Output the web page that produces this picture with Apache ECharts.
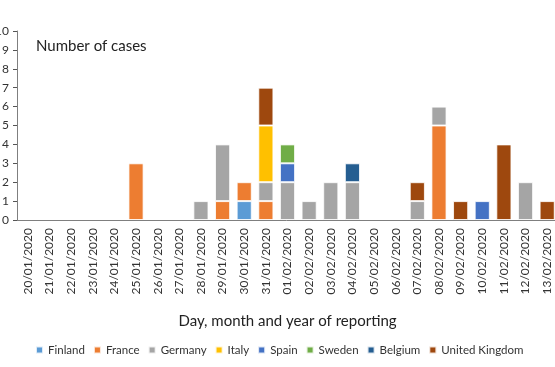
<!DOCTYPE html>
<html><head><meta charset="utf-8">
<script src="https://cdn.jsdelivr.net/npm/echarts@6/dist/echarts.min.js"></script>
<style>html,body{margin:0;padding:0;background:#fff}#c{width:555px;height:367px}</style>
</head><body><div id="c"></div>
<script>
const dates = ["20/01/2020","21/01/2020","22/01/2020","23/01/2020","24/01/2020","25/01/2020","26/01/2020","27/01/2020","28/01/2020","29/01/2020","30/01/2020","31/01/2020","01/02/2020","02/02/2020","03/02/2020","04/02/2020","05/02/2020","06/02/2020","07/02/2020","08/02/2020","09/02/2020","10/02/2020","11/02/2020","12/02/2020","13/02/2020"];
const finland = [0,0,0,0,0,0,0,0,0,0,1,0,0,0,0,0,0,0,0,0,0,0,0,0,0];
const france  = [0,0,0,0,0,3,0,0,0,1,1,1,0,0,0,0,0,0,0,5,0,0,0,0,0];
const germany = [0,0,0,0,0,0,0,0,1,3,0,1,2,1,2,2,0,0,1,1,0,0,0,2,0];
const italy   = [0,0,0,0,0,0,0,0,0,0,0,3,0,0,0,0,0,0,0,0,0,0,0,0,0];
const spain   = [0,0,0,0,0,0,0,0,0,0,0,0,1,0,0,0,0,0,0,0,0,1,0,0,0];
const sweden  = [0,0,0,0,0,0,0,0,0,0,0,0,1,0,0,0,0,0,0,0,0,0,0,0,0];
const belgium = [0,0,0,0,0,0,0,0,0,0,0,0,0,0,0,1,0,0,0,0,0,0,0,0,0];
const uk      = [0,0,0,0,0,0,0,0,0,0,0,2,0,0,0,0,0,0,1,0,1,0,4,0,1];
const yTicks = [0,1,2,3,4,5,6,7,8,9,10];

const seriesDefs = [
  ["Finland", finland, "#5B9BD5"],
  ["France", france, "#ED7D31"],
  ["Germany", germany, "#A5A5A5"],
  ["Italy", italy, "#FFC000"],
  ["Spain", spain, "#4472C4"],
  ["Sweden", sweden, "#70AD47"],
  ["Belgium", belgium, "#255E91"],
  ["United Kingdom", uk, "#9E480E"]
];
const font = "Lato, 'Open Sans', sans-serif";
const chart = echarts.init(document.getElementById('c'), null, {renderer:'canvas'});
chart.setOption({
  animation: false,
  textStyle: {fontFamily: font},
  title: {text: "Number of cases", left: 31, top: 34, textStyle:{fontSize:15, fontWeight:'normal', color:'#222', fontFamily: font}},
  legend: {
    left: 30, top: 339, right: 0, itemWidth: 7, itemHeight: 7, itemGap: 8, icon: 'rect',
    textStyle: {fontSize: 11.5, color:'#333', fontFamily: font},
    data: seriesDefs.map(s=>s[0])
  },
  grid: {left: 17, right: -3, top: 31, bottom: 147, containLabel: false, outerBoundsMode: 'none'},
  xAxis: {
    type: 'category', data: dates,
    name: "Day, month and year of reporting", nameLocation: 'middle', nameGap: 94,
    nameTextStyle: {fontSize: 15, color:'#222', fontFamily: font},
    axisLine: {lineStyle:{color:'#7f7f7f'}},
    axisTick: {length: 4, lineStyle:{color:'#555'}},
    axisLabel: {rotate: 90, fontSize: 12, color:'#333', margin: 8, interval: 0, fontFamily: font}
  },
  yAxis: {
    type: 'value', min: 0, max: yTicks[yTicks.length-1], interval: 1,
    splitLine: {show:false},
    axisLine: {show:true, lineStyle:{color:'#7f7f7f'}},
    axisTick: {show:true, length: 4, lineStyle:{color:'#555'}},
    axisLabel: {fontSize: 12, color:'#333', margin: 8, fontFamily: font}
  },
  series: seriesDefs.map(([name, data, color]) => ({
    name, type:'bar', stack:'total', data: data.map(v => v === 0 ? null : v),
    barWidth: '70%',
    itemStyle: {color, borderColor:'rgba(255,255,255,0.8)', borderWidth: 1}
  }))
});
</script></body></html>
